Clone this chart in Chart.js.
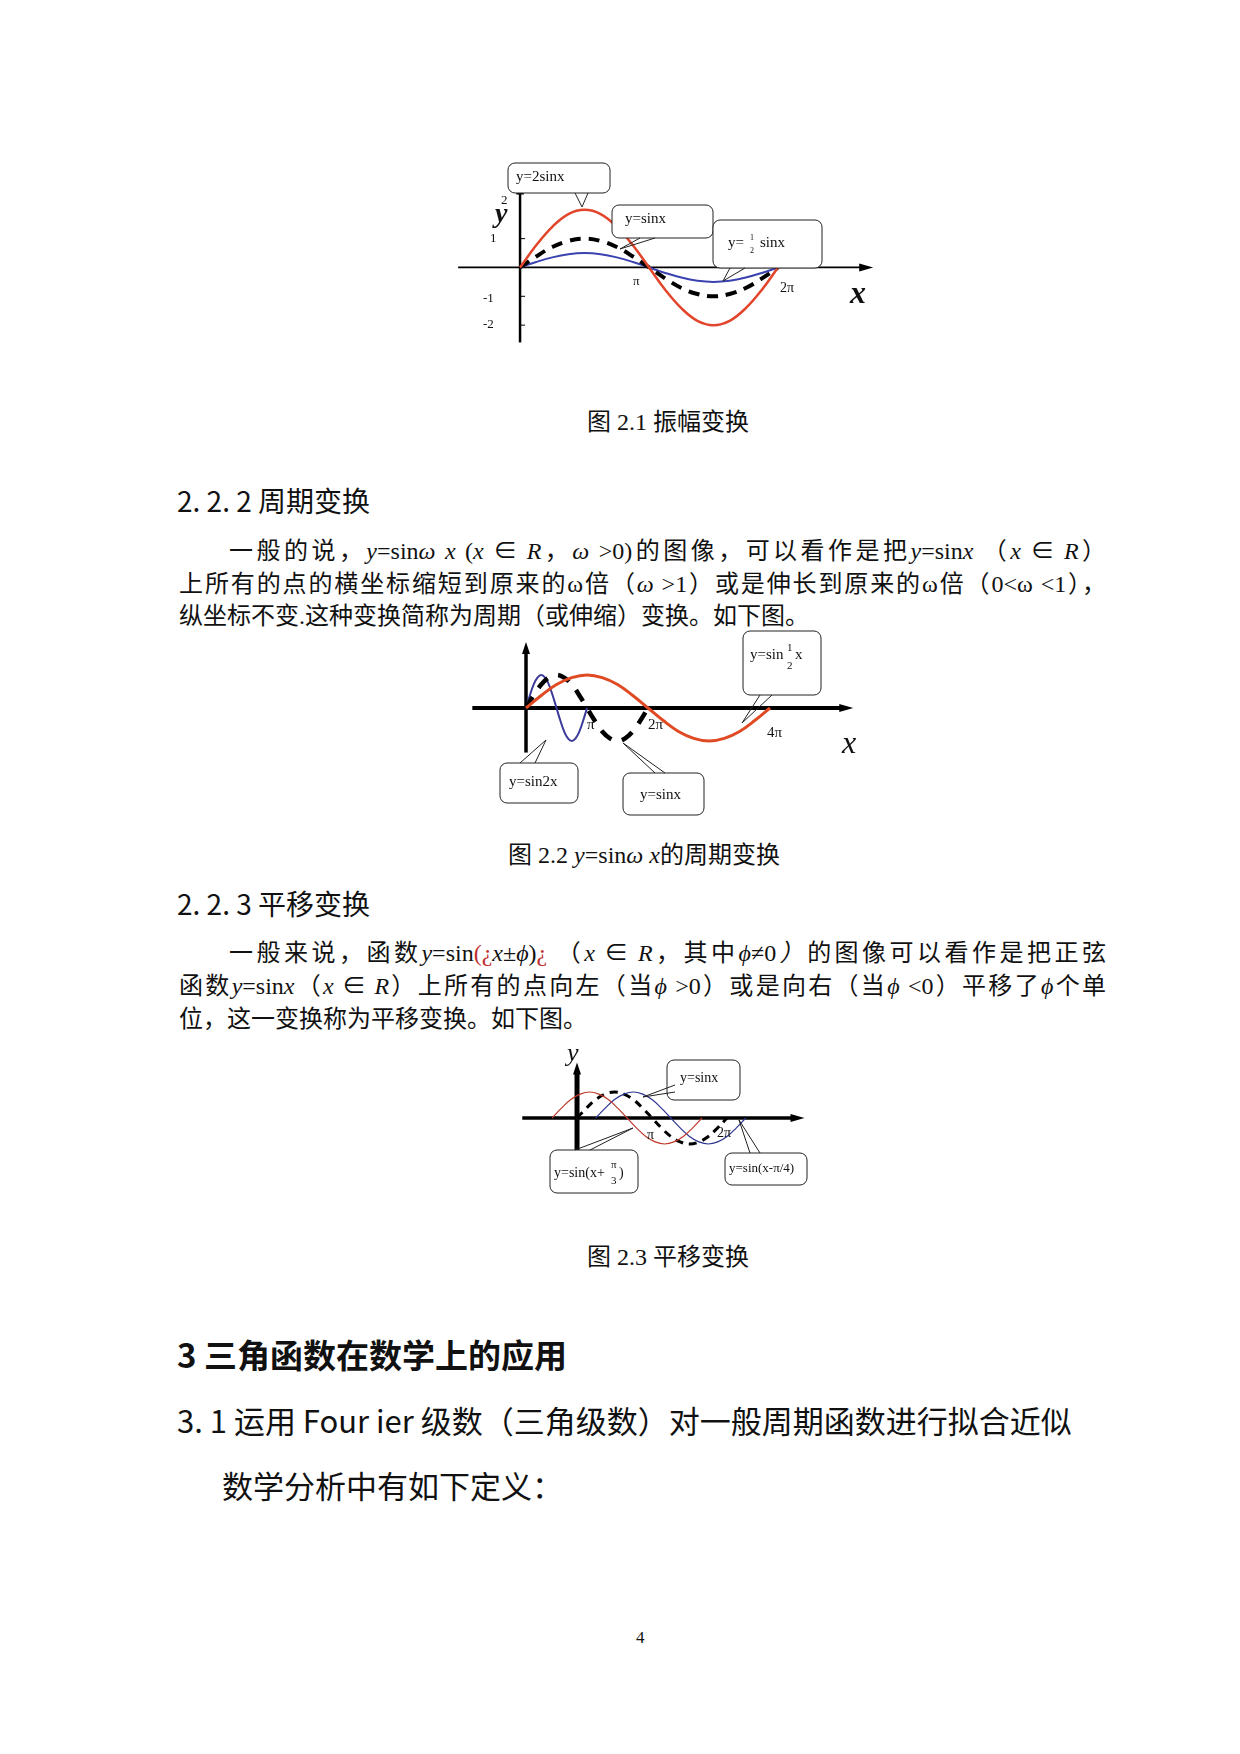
<!DOCTYPE html>
<html><head><meta charset="utf-8">
<script src="https://cdn.jsdelivr.net/npm/chart.js@4.4.1/dist/chart.umd.min.js"></script>
<style>
body{margin:0;width:1240px;height:1754px;background:#fff;position:relative;font-family:"Liberation Serif","Noto Sans CJK SC",serif;color:#111}
.t{position:absolute;white-space:nowrap}
.ln{position:absolute;left:179px;width:927px;font-size:24px;text-align:justify;text-align-last:justify;white-space:nowrap}
.cap{position:absolute;font-size:24px;white-space:nowrap;transform:translateX(-50%)}
.h{font-family:"Noto Sans CJK SC",sans-serif;position:absolute;white-space:nowrap}
i{font-style:italic}
.r{color:#c03030}
canvas{position:absolute}
</style></head><body>
<canvas id="c1" width="440" height="195" style="left:450px;top:155px"></canvas>
<div class="cap" style="left:668px;top:402px">图 2.1 振幅变换</div>
<div class="h" style="left:177px;top:480px;font-size:28px">2. 2. 2 周期变换</div>
<div class="ln" style="top:531px;left:229px;width:877px">一般的说，<i>y</i>=sin<i>ω x</i> (<i>x</i> ∈ <i>R</i>，<i>ω</i> &gt;0)的图像，可以看作是把<i>y</i>=sin<i>x</i> （<i>x</i> ∈ <i>R</i>）</div>
<div class="ln" style="top:564px">上所有的点的横坐标缩短到原来的ω倍（<i>ω</i> &gt;1）或是伸长到原来的ω倍（0&lt;ω &lt;1），</div>
<div class="ln" style="top:596px;text-align-last:left">纵坐标不变.这种变换简称为周期（或伸缩）变换。如下图。</div>
<canvas id="c2" width="410" height="200" style="left:460px;top:625px"></canvas>
<div class="cap" style="left:644px;top:835px">图 2.2 <i>y</i>=sin<i>ω x</i>的周期变换</div>
<div class="h" style="left:177px;top:883px;font-size:28px">2. 2. 3 平移变换</div>
<div class="ln" style="top:933px;left:229px;width:877px">一般来说，函数<i>y</i>=sin<span class="r">(¿</span><i>x</i>±<i>ϕ</i>)<span class="r">¿</span> （<i>x</i> ∈ <i>R</i>，其中<i>ϕ</i>≠0<i>）</i>的图像可以看作是把正弦</div>
<div class="ln" style="top:966px">函数<i>y</i>=sin<i>x</i>（<i>x</i> ∈ <i>R</i>）上所有的点向左（当<i>ϕ</i> &gt;0）或是向右（当<i>ϕ</i> &lt;0）平移了<i>ϕ</i>个单</div>
<div class="ln" style="top:999px;text-align-last:left">位，这一变换称为平移变换。如下图。</div>
<canvas id="c3" width="315" height="165" style="left:515px;top:1040px"></canvas>
<div class="cap" style="left:668px;top:1237px">图 2.3 平移变换</div>
<div class="h" style="left:177px;top:1330px;font-size:33px;font-weight:bold">3 三角函数在数学上的应用</div>
<div class="h" style="left:177px;top:1397px;font-size:31px">3. 1 运用 Four ier 级数（三角级数）对一般周期函数进行拟合近似</div>
<div class="h" style="left:222px;top:1462px;font-size:31px">数学分析中有如下定义：</div>
<div class="t" style="left:636px;top:1628px;font-size:17px">4</div>
<script>
// x values in units of π
const xs0to2 = [0,0.125,0.25,0.375,0.5,0.625,0.75,0.875,1,1.125,1.25,1.375,1.5,1.625,1.75,1.875,2];
const sinY = [0,0.38,0.71,0.92,1,0.92,0.71,0.38,0,-0.38,-0.71,-0.92,-1,-0.92,-0.71,-0.38,0];
const twoSinY = [0,0.77,1.41,1.85,2,1.85,1.41,0.77,0,-0.77,-1.41,-1.85,-2,-1.85,-1.41,-0.77,0];
const halfSinY = [0,0.19,0.35,0.46,0.5,0.46,0.35,0.19,0,-0.19,-0.35,-0.46,-0.5,-0.46,-0.35,-0.19,0];
const xs0to1 = [0,0.0625,0.125,0.1875,0.25,0.3125,0.375,0.4375,0.5,0.5625,0.625,0.6875,0.75,0.8125,0.875,0.9375,1];
const sin2xY = [0,0.38,0.71,0.92,1,0.92,0.71,0.38,0,-0.38,-0.71,-0.92,-1,-0.92,-0.71,-0.38,0];
const xs0to4 = [0,0.25,0.5,0.75,1,1.25,1.5,1.75,2,2.25,2.5,2.75,3,3.25,3.5,3.75,4];
const sinHalfxY = [0,0.38,0.71,0.92,1,0.92,0.71,0.38,0,-0.38,-0.71,-0.92,-1,-0.92,-0.71,-0.38,0];
const redX = [-0.333,-0.208,-0.083,0.042,0.167,0.292,0.417,0.542,0.667,0.792,0.917,1.042,1.167,1.292,1.417,1.542,1.667];
const redY = [0,0.38,0.71,0.92,1,0.92,0.71,0.38,0,-0.38,-0.71,-0.92,-1,-0.92,-0.71,-0.38,0];
const blueX = [0.25,0.375,0.5,0.625,0.75,0.875,1,1.125,1.25,1.375,1.5,1.625,1.75,1.875,2,2.125,2.25];
const blueY = [0,0.38,0.71,0.92,1,0.92,0.71,0.38,0,-0.38,-0.71,-0.92,-1,-0.92,-0.71,-0.38,0];

const zip=(a,b)=>a.map((x,i)=>({x:x,y:b[i]}));
function ds(xa,ya,color,w,dash){return {data:zip(xa,ya),borderColor:color,borderWidth:w,borderDash:dash||[],pointRadius:0,tension:0.4,fill:false};}

const deco={id:'deco',
 beforeDatasetsDraw(ch,a,o){
  const c=ch.ctx,x=ch.scales.x,y=ch.scales.y,ax=o.axes;
  c.save();c.strokeStyle='#000';c.fillStyle='#000';
  c.lineWidth=ax.xw;c.beginPath();c.moveTo(x.getPixelForValue(ax.x0),y.getPixelForValue(0));c.lineTo(x.getPixelForValue(ax.x1),y.getPixelForValue(0));c.stroke();
  const ex=x.getPixelForValue(ax.x1),ey=y.getPixelForValue(0);
  c.beginPath();c.moveTo(ex+10,ey);c.lineTo(ex-4,ey-4);c.lineTo(ex-4,ey+4);c.closePath();c.fill();
  c.lineWidth=ax.yw;c.beginPath();c.moveTo(x.getPixelForValue(0),y.getPixelForValue(ax.y0));c.lineTo(x.getPixelForValue(0),y.getPixelForValue(ax.y1));c.stroke();
  const tx=x.getPixelForValue(0),ty=y.getPixelForValue(ax.y1);
  c.beginPath();c.moveTo(tx,ty-10);c.lineTo(tx-4,ty+2);c.lineTo(tx+4,ty+2);c.closePath();c.fill();
  (ax.yt||[]).forEach(v=>{const py=y.getPixelForValue(v);c.lineWidth=1;c.beginPath();c.moveTo(tx,py);c.lineTo(tx+5,py);c.stroke();});
  c.restore();
 },
 afterDatasetsDraw(ch,a,o){
  const c=ch.ctx;c.save();
  (o.boxes||[]).forEach(b=>{
   c.lineWidth=1;c.strokeStyle='#222';c.fillStyle='#fff';
   c.beginPath();c.roundRect(b.x,b.y,b.w,b.h,7);c.fill();c.stroke();
   c.beginPath();c.moveTo(b.p[0],b.p[1]);c.lineTo(b.p[4],b.p[5]);c.lineTo(b.p[2],b.p[3]);c.stroke();
  });
  (o.labels||[]).forEach(l=>{c.fillStyle='#111';c.font=l.f;c.textAlign='left';c.textBaseline='middle';c.fillText(l.t,l.x,l.y);});
  c.restore();
 }};

function make(id,sets,xr,yr,opts){
 return new Chart(document.getElementById(id),{type:'line',data:{datasets:sets},plugins:[deco],
  options:{responsive:false,animation:false,devicePixelRatio:1,layout:{padding:0},
   plugins:{legend:{display:false},tooltip:{enabled:false},deco:opts},
   scales:{x:{type:'linear',display:false,min:xr[0],max:xr[1]},y:{type:'linear',display:false,min:yr[0],max:yr[1]}}}});
}
const SF='15px "Liberation Serif",serif';
// Chart 1 (canvas origin 450,155)
make('c1',[ds(xs0to2,twoSinY,'#e2452b',2.5),ds(xs0to2,sinY,'#000',4,[11,8]),ds(xs0to2,halfSinY,'#3a42b0',2)],
 [-0.543,2.868],[-2.862,3.9],
 {axes:{x0:-0.48,x1:2.66,xw:1.8,y0:-2.6,y1:2.6,yw:2.5,yt:[1,-1,-2]},
  boxes:[{x:58,y:8,w:102,h:30,p:[125,38,138,38,132,52]},
         {x:162,y:50,w:101,h:33,p:[190,83,205,83,170,94]},
         {x:263,y:65,w:109,h:48,p:[280,113,295,113,273,126]}],
  labels:[{t:'y=2sinx',f:SF,x:66,y:22},{t:'y=sinx',f:SF,x:175,y:64},{t:'y= ',f:SF,x:278,y:88},{t:'1',f:'8px serif',x:300,y:83},{t:'2',f:'8px serif',x:300,y:96},{t:'sinx',f:SF,x:310,y:88},
   {t:'y',f:'italic bold 28px "Liberation Serif",serif',x:45,y:60},{t:'2',f:'13px serif',x:51,y:46},
   {t:'1',f:'13px serif',x:40,y:84},{t:'-1',f:'13px serif',x:33,y:144},{t:'-2',f:'13px serif',x:33,y:170},
   {t:'π',f:'13px serif',x:183,y:127},{t:'2π',f:'14px serif',x:330,y:133},
   {t:'x',f:'italic bold 32px "Liberation Serif",serif',x:400,y:140}]});
// Chart 2 (origin 460,625)
make('c2',[ds(xs0to4,sinHalfxY,'#e04a22',3),ds(xs0to2,sinY,'#000',4.5,[13,11]),ds(xs0to1,sin2xY,'#3b3a9a',2)],
 [-1.082,5.639],[-3.545,2.515],
 {axes:{x0:-0.88,x1:5.2,xw:4,y0:-1.35,y1:1.7,yw:3.5},
  boxes:[{x:283,y:6,w:78,h:64,p:[300,70,312,70,282,98]},
         {x:40,y:138,w:78,h:40,p:[60,138,75,138,86,115]},
         {x:163,y:148,w:81,h:42,p:[195,148,205,148,163,118]}],
  labels:[{t:'y=sin',f:'15px "Liberation Serif",serif',x:290,y:30},{t:'1',f:'11px serif',x:327,y:23},{t:'2',f:'11px serif',x:327,y:41},{t:'x',f:'15px serif',x:335,y:30},
   {t:'y=sin2x',f:'15px "Liberation Serif",serif',x:49,y:157},{t:'y=sinx',f:'15px "Liberation Serif",serif',x:180,y:170},
   {t:'π',f:'15px serif',x:127,y:100},{t:'2π',f:'15px serif',x:188,y:100},{t:'4π',f:'15px serif',x:307,y:108},
   {t:'x',f:'italic 32px "Liberation Serif",serif',x:382,y:120}]});
// Chart 3 (origin 515,1040)
make('c3',[ds(redX,redY,'#c0392b',1.2),ds(blueX,blueY,'#2b3590',1.2),ds(xs0to2,sinY,'#000',3,[8,6])],
 [-0.827,3.373],[-3.346,3.0],
 {axes:{x0:-0.73,x1:2.9,xw:3.5,y0:-1.35,y1:1.75,yw:5},
  boxes:[{x:152,y:20,w:73,h:40,p:[160,45,160,52,128,57]},
         {x:35,y:110,w:88,h:43,p:[60,110,75,110,118,88]},
         {x:210,y:113,w:82,h:32,p:[235,113,245,113,224,80]}],
  labels:[{t:'y=sinx',f:'14px "Liberation Serif",serif',x:165,y:38},
   {t:'y=sin(x+',f:'14px "Liberation Serif",serif',x:39,y:133},{t:'π',f:'11px serif',x:96,y:125},{t:'3',f:'11px serif',x:96,y:141},{t:')',f:'14px serif',x:104,y:133},
   {t:'y=sin(x-π/4)',f:'13px "Liberation Serif",serif',x:214,y:129},
   {t:'π',f:'14px serif',x:132,y:95},{t:'2π',f:'14px serif',x:202,y:93},
   {t:'y',f:'italic 26px "Liberation Serif",serif',x:52,y:14}]});
</script>
</body></html>
